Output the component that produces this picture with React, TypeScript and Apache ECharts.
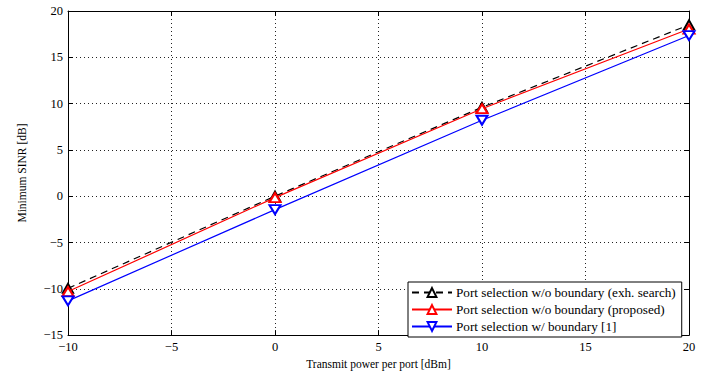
import React, { useEffect, useRef } from "react";
import * as echarts from "echarts";

const xValues = [-10, 0, 10, 20];
const exhSearch = [-9.95, 0.0, 9.6, 18.5];
const proposed = [-10.3, -0.15, 9.45, 18.05];
const boundary = [-11.3, -1.45, 8.2, 17.35];
const seriesNames = [
  "Port selection w/o boundary (exh. search)",
  "Port selection w/o boundary (proposed)",
  "Port selection w/ boundary [1]",
];

const FONT = "'Liberation Serif', 'Times New Roman', serif";
const fmt = (v: number) => String(v).replace("-", "\u2212");

export default function App() {
  const ref = useRef<HTMLDivElement>(null);
  useEffect(() => {
    const chart = echarts.init(ref.current!, undefined, { renderer: "svg" });
    const mk = (d: number[]) => d.map((v, i) => [xValues[i], v]);
    const tickIn = { show: true, inside: true, length: 5, lineStyle: { color: "#000" } };
    chart.setOption({
      animation: false,
      backgroundColor: "#fff",
      textStyle: { fontFamily: FONT },
      grid: { left: 68, right: 33, top: 11, bottom: 35, show: false },
      legend: {
        orient: "vertical",
        left: 408,
        top: 282,
        width: 278,
        itemWidth: 40,
        itemHeight: 11,
        itemGap: 4,
        padding: [4, 6, 4, 3],
        backgroundColor: "#fff",
        borderColor: "#000",
        borderWidth: 1,
        borderRadius: 0,
        textStyle: { fontFamily: FONT, fontSize: 13.2, color: "#000", padding: [0, 0, 0, -1] },
        data: seriesNames,
      },
      xAxis: [
        {
          type: "value",
          min: -10,
          max: 20,
          interval: 5,
          name: "Transmit power per port [dBm]",
          nameLocation: "middle",
          nameGap: 20,
          nameTextStyle: { fontFamily: FONT, fontSize: 11.5, color: "#000" },
          axisLine: { show: true, onZero: false, lineStyle: { color: "#000" } },
          axisTick: tickIn,
          axisLabel: { fontFamily: FONT, fontSize: 12.5, color: "#000", margin: 5, formatter: fmt },
          splitLine: { show: true, lineStyle: { color: "#222", type: [1, 3], width: 1 } },
        },
        {
          type: "value",
          position: "top",
          min: -10,
          max: 20,
          interval: 5,
          axisLine: { show: true, onZero: false, lineStyle: { color: "#000" } },
          axisTick: tickIn,
          axisLabel: { show: false },
          splitLine: { show: false },
        },
      ],
      yAxis: [
        {
          type: "value",
          min: -15,
          max: 20,
          interval: 5,
          name: "Minimum SINR [dB]",
          nameLocation: "middle",
          nameGap: 40,
          nameTextStyle: { fontFamily: FONT, fontSize: 11.5, color: "#000" },
          axisLine: { show: true, onZero: false, lineStyle: { color: "#000" } },
          axisTick: tickIn,
          axisLabel: { fontFamily: FONT, fontSize: 12.5, color: "#000", margin: 5, formatter: fmt },
          splitLine: { show: true, lineStyle: { color: "#222", type: [1, 3], width: 1 } },
        },
        {
          type: "value",
          position: "right",
          min: -15,
          max: 20,
          interval: 5,
          axisLine: { show: true, onZero: false, lineStyle: { color: "#000" } },
          axisTick: tickIn,
          axisLabel: { show: false },
          splitLine: { show: false },
        },
      ],
      series: [
        {
          name: seriesNames[0],
          type: "line",
          data: mk(exhSearch),
          symbol: "emptyTriangle",
          symbolSize: [10, 9],
          lineStyle: { color: "#000", width: 1.2, type: [7, 5] },
          itemStyle: { color: "#000", borderWidth: 1.1 },
          z: 3,
        },
        {
          name: seriesNames[1],
          type: "line",
          data: mk(proposed),
          symbol: "emptyTriangle",
          symbolSize: [11, 9],
          lineStyle: { color: "#ff0000", width: 1.2 },
          itemStyle: { color: "#ff0000", borderWidth: 1.1 },
          z: 4,
        },
        {
          name: seriesNames[2],
          type: "line",
          data: mk(boundary),
          symbol: "emptyTriangle",
          symbolRotate: 180,
          symbolSize: [11, 9],
          lineStyle: { color: "#0000ff", width: 1.2 },
          itemStyle: { color: "#0000ff", borderWidth: 1.1 },
          z: 4,
        },
      ],
    });
    return () => chart.dispose();
  }, []);
  return <div ref={ref} style={{ width: 722, height: 375, position: "absolute", left: 0, top: 0 }} />;
}
